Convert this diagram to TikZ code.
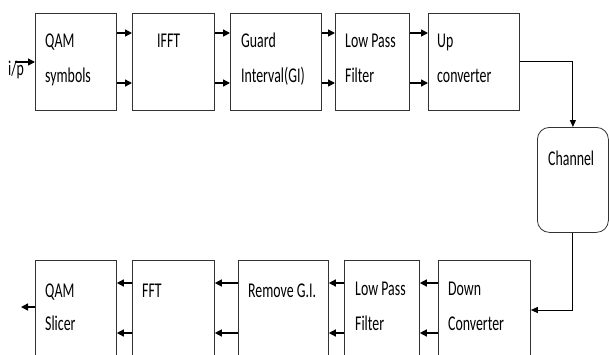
\documentclass[tikz,border=0pt]{standalone}
\usepackage{fontspec}
\setmainfont[FakeStretch=0.66]{Carlito}
\usetikzlibrary{arrows.meta}
\begin{document}
\begin{tikzpicture}[x=1pt,y=-1pt,
  blk/.style={draw=black!80,line width=0.8pt,inner sep=0pt,anchor=north west},
  txt/.style={anchor=base west,inner sep=0pt,font=\fontsize{21}{21}\selectfont},
  arr/.style={line width=1.4pt,-{Triangle[length=7pt,width=7pt]}},
  lnk/.style={line width=1pt,-{Triangle[length=7pt,width=6pt]}}]
\clip (0,0) rectangle (609,354);
\fill[white] (0,0) rectangle (609,354);
% top row
\node[blk,minimum width=81pt,minimum height=97pt] (b1) at (35,13) {};
\node[blk,minimum width=82pt,minimum height=97pt] (b2) at (132,13) {};
\node[blk,minimum width=91pt,minimum height=97pt] (b3) at (230,13) {};
\node[blk,minimum width=74pt,minimum height=97pt] (b4) at (335,13) {};
\node[blk,minimum width=91pt,minimum height=97pt] (b5) at (428,13) {};
% channel
\node[blk,rounded corners=12pt,minimum width=71pt,minimum height=105pt] (ch) at (537,127) {};
% bottom row
\node[blk,minimum width=92pt,minimum height=110pt] (d5) at (438,260) {};
\node[blk,minimum width=75pt,minimum height=110pt] (d4) at (344,260) {};
\node[blk,minimum width=90pt,minimum height=110pt] (d3) at (238,260) {};
\node[blk,minimum width=82pt,minimum height=110pt] (d2) at (132,260) {};
\node[blk,minimum width=81pt,minimum height=110pt] (d1) at (35,260) {};
% texts
\node[txt] (t1a) at (45,47) {QAM};
\node[txt] (t1b) at (45,82) {symbols};
\node[txt] (t2a) at (157,47) {IFFT};
\node[txt] (t3a) at (241,47) {Guard};
\node[txt] (t3b) at (241,82) {Interval(GI)};
\node[txt] (t4a) at (345,47) {Low Pass};
\node[txt] (t4b) at (345,82) {Filter};
\node[txt] (t5a) at (437,47) {Up};
\node[txt] (t5b) at (437,82) {converter};
\node[txt] (tch) at (548,165) {Channel};
\node[txt] (u1a) at (45,297) {QAM};
\node[txt] (u1b) at (45,330) {Slicer};
\node[txt] (u2a) at (142,297) {FFT};
\node[txt] (u3a) at (248,297) {Remove G.I.};
\node[txt] (u4a) at (355,295) {Low Pass};
\node[txt] (u4b) at (355,330) {Filter};
\node[txt] (u5a) at (448,295) {Down};
\node[txt] (u5b) at (448,330) {Converter};
\node[txt] (tin) at (8,75) {i/p};
% input / output
\coordinate (inp) at (15,62);
\draw[arr] (inp) -- (b1.west |- inp);
\coordinate (outp) at (21,307);
\draw[arr] (d1.west |- outp) -- (outp);
% top arrows
\foreach \a/\b in {b1/b2,b2/b3,b3/b4,b4/b5}{
  \draw[arr] ([yshift=-20pt]\a.north east) -- ([yshift=-20pt]\b.north west);
  \draw[arr] ([yshift=-70pt]\a.north east) -- ([yshift=-70pt]\b.north west);
}
% bottom arrows
\foreach \a/\b in {d5/d4,d4/d3,d3/d2,d2/d1}{
  \draw[arr] ([yshift=-23pt]\a.north west) -- ([yshift=-23pt]\b.north east);
  \draw[arr] ([yshift=-73pt]\a.north west) -- ([yshift=-73pt]\b.north east);
}
% channel links
\draw[lnk] (b5.east) -| (ch.north);
\coordinate (dn) at ([yshift=-50pt]d5.north east);
\draw[lnk] (ch.south) |- (dn);
\end{tikzpicture}
\end{document}
